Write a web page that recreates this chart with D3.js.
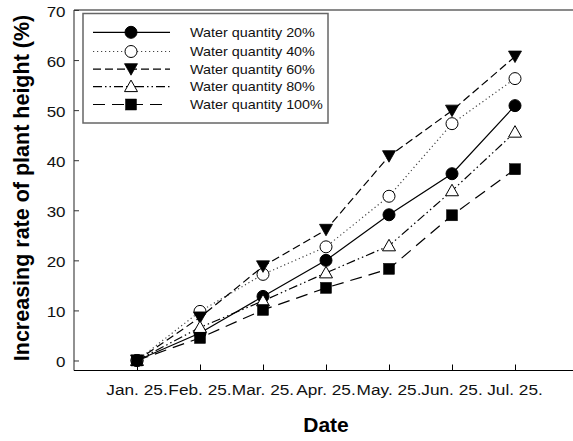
<!DOCTYPE html>
<html><head><meta charset="utf-8">
<script src="https://cdn.jsdelivr.net/npm/d3@7"></script>
<style>body{margin:0;background:#fff}svg{display:block}text{font-family:Arial,"Liberation Sans",sans-serif}</style>
</head><body>
<svg id="c" width="573" height="441"></svg>
<script>
const categories = ["Jan. 25.","Feb. 25.","Mar. 25.","Apr. 25.","May. 25.","Jun. 25.","Jul. 25."];
const seriesNames = ["Water quantity 20%","Water quantity 40%","Water quantity 60%","Water quantity 80%","Water quantity 100%"];
const s20  = [0, 5.5, 12.8, 20.0, 29.1, 37.3, 50.9];
const s40  = [0, 9.8, 17.2, 22.7, 32.8, 47.3, 56.3];
const s60  = [0, 8.6, 18.8, 26.1, 40.8, 49.9, 60.7];
const s80  = [0, 6.6, 11.9, 17.5, 22.9, 33.9, 45.6];
const s100 = [0, 4.5, 10.1, 14.5, 18.3, 29.0, 38.2];
const yTicks = [0,10,20,30,40,50,60,70];

const seriesValues = [s20, s40, s60, s80, s100];
const styles = [
  {dash:null, sym:"circle", fill:"#000"},
  {dash:"1.2,2.8", sym:"circle", fill:"#fff"},
  {dash:"8,4", sym:"down", fill:"#000"},
  {dash:"9,3,1.5,3,1.5,3", sym:"up", fill:"#fff"},
  {dash:"12,7", sym:"square", fill:"#000"}
];

const svg = d3.select("#c");
const x = d3.scaleLinear().domain([-1, 7]).range([74, 578]);
const y = d3.scaleLinear().domain([-2, 70]).range([370.5, 10]);

function sText(parent, tx, ty, sx, size, anchor, str, weight){
  const g = parent.append("g").attr("transform",`translate(${tx},${ty}) scale(${sx},1)`);
  g.append("text").attr("x",0).attr("y",0).attr("text-anchor",anchor)
    .attr("font-size",size).attr("font-weight",weight||"normal").attr("fill","#111").text(str);
  return g;
}

// frame top & left
svg.append("line").attr("x1",74).attr("x2",573).attr("y1",y(70)).attr("y2",y(70))
  .attr("stroke","#8a8a8a").attr("stroke-width",2);
svg.append("line").attr("x1",74).attr("x2",74).attr("y1",y(70)).attr("y2",y(-2))
  .attr("stroke","#555").attr("stroke-width",1.3);

// bottom axis
const xa = svg.append("g").attr("transform",`translate(0,${y(-2)})`)
  .call(d3.axisBottom(x).tickValues(d3.range(categories.length)).tickSize(-6).tickFormat(""));
xa.select(".domain").attr("d","M74,0H573").attr("stroke","#000").attr("stroke-width",1.2);
xa.selectAll(".tick line").attr("stroke","#000");
const xl = svg.append("g");
categories.forEach((c,i)=>sText(xl, x(i), 394.5, 1.15, 15, "middle", c));

// left axis ticks
const ya = svg.append("g").attr("transform","translate(74,0)")
  .call(d3.axisLeft(y).tickValues(yTicks).tickSize(-5).tickFormat(""));
ya.select(".domain").remove();
ya.selectAll(".tick line").attr("stroke","#333");
const yl = svg.append("g");
yTicks.forEach(t=>sText(yl, 65.5, y(t)+7, 1.17, 14.5, "end", String(t)));

// titles
svg.append("text").attr("transform","translate(29,188) rotate(-90)").attr("text-anchor","middle")
  .attr("font-size",21.5).attr("font-weight","bold").attr("fill","#000")
  .text("Increasing rate of plant height (%)");
svg.append("text").attr("x",326).attr("y",431.5).attr("text-anchor","middle")
  .attr("font-size",21).attr("font-weight","bold").attr("fill","#000").text("Date");

function drawSym(g, sym, fill, cx, cy){
  if(sym==="circle"){
    g.append("circle").attr("cx",cx).attr("cy",cy).attr("r",6)
      .attr("fill",fill).attr("stroke","#000").attr("stroke-width",1);
  } else if(sym==="square"){
    g.append("rect").attr("x",cx-5.5).attr("y",cy-5.5).attr("width",11).attr("height",11)
      .attr("fill",fill).attr("stroke","#000").attr("stroke-width",0.5);
  } else if(sym==="down"){
    g.append("path").attr("d",`M${cx-6.5},${cy-5.5}L${cx+6.5},${cy-5.5}L${cx},${cy+6}Z`)
      .attr("fill",fill).attr("stroke","#000").attr("stroke-width",0.8);
  } else {
    g.append("path").attr("d",`M${cx},${cy-6.5}L${cx+6.5},${cy+5}L${cx-6.5},${cy+5}Z`)
      .attr("fill",fill).attr("stroke","#000").attr("stroke-width",1);
  }
}

const line = d3.line().x((d,i)=>x(i)).y(d=>y(d));
seriesValues.forEach((vals, k)=>{
  const st = styles[k];
  const g = svg.append("g");
  g.append("path").attr("d",line(vals)).attr("fill","none")
    .attr("stroke", k===1 ? "#444" : "#000").attr("stroke-width",1.2)
    .attr("stroke-dasharray",st.dash);
  vals.forEach((v,i)=>drawSym(g, st.sym, st.fill, x(i), y(v)));
});

// legend
const lg = svg.append("g");
lg.append("rect").attr("x",83).attr("y",13.5).attr("width",245).attr("height",109.5)
  .attr("fill","#fff").attr("stroke","#666").attr("stroke-width",1.5);
const rowY = [32.3, 51.5, 69.2, 86.6, 104.5];
seriesNames.forEach((name,k)=>{
  const st = styles[k];
  const ry = rowY[k];
  lg.append("line").attr("x1",93).attr("x2",k===4?162:170).attr("y1",ry).attr("y2",ry)
    .attr("stroke",k===1?"#444":"#000").attr("stroke-width",1.2).attr("stroke-dasharray",st.dash);
  drawSym(lg, st.sym, st.fill, 131, ry);
  sText(lg, 190, ry+4.5, 1.15, 12.5, "start", name);
});
</script>
</body></html>
